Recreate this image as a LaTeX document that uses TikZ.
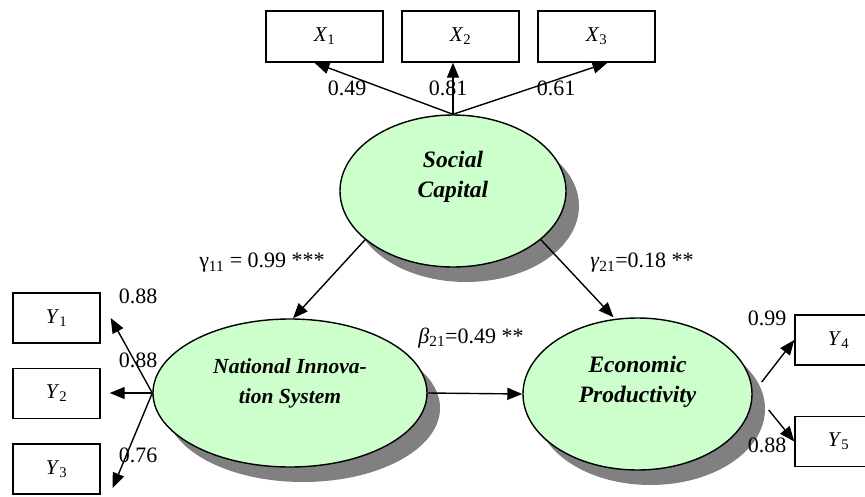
\documentclass[tikz,border=0pt]{standalone}
\usepackage{fontspec}
\setmainfont{Liberation Serif}
\usetikzlibrary{arrows.meta,shapes.geometric,shadows,calc}
\definecolor{latfill}{RGB}{204,255,204}
\definecolor{shadowgray}{RGB}{128,128,128}
\begin{document}
\begin{tikzpicture}[x=1pt,y=-1pt,
  obsbox/.style={draw,line width=1.4pt,fill=white,minimum width=117pt,minimum height=51pt,inner sep=0pt,font=\fontsize{21}{24}\selectfont},
  ybox/.style={obsbox,minimum width=87pt,minimum height=50pt},
  latent/.style={ellipse,draw,line width=1.4pt,fill=latfill,inner sep=0pt,
    drop shadow={shadow xshift=13pt,shadow yshift=-15pt,fill=shadowgray,opacity=1,draw=none}},
  lattext/.style={align=center,inner sep=0pt,font=\fontsize{23.5}{30}\selectfont\bfseries\itshape},
  num/.style={font=\fontsize{22}{26}\selectfont,inner sep=0pt},
  conn/.style={line width=1.4pt,-{Triangle[length=15pt,width=12pt]}}
]
\useasboundingbox (0,0) rectangle (865,496);
\clip (0,0) rectangle (865,496);

% observed variables
\node[obsbox] (x1) at (324.5,36.5) {\textit{X}\textsubscript{1}};
\node[obsbox] (x2) at (460.5,36.5) {\textit{X}\textsubscript{2}};
\node[obsbox] (x3) at (596.5,36.5) {\textit{X}\textsubscript{3}};
\node[ybox] (y1) at (56.5,318) {\textit{Y}\textsubscript{1}};
\node[ybox] (y2) at (56.5,393.5) {\textit{Y}\textsubscript{2}};
\node[ybox] (y3) at (56.5,469) {\textit{Y}\textsubscript{3}};
\node[ybox] (y4) at (838.5,340) {\textit{Y}\textsubscript{4}};
\node[ybox] (y5) at (838.5,441.5) {\textit{Y}\textsubscript{5}};

% latent variables
\node[latent,minimum width=226pt,minimum height=152pt] (sc) at (453,191) {};
\node[lattext] (sct) at ([yshift=14pt]sc.center) {Social\\Capital};
\node[latent,minimum width=274pt,minimum height=148pt] (nis) at (290,393) {};
\node[lattext,font=\fontsize{21.5}{30}\selectfont\bfseries\itshape] (nist) at ([yshift=10pt]nis.center) {National Innova-\\tion System};
\node[latent,minimum width=229pt,minimum height=152pt] (ep) at (637.5,394) {};
\node[lattext] (ept) at ([yshift=12pt]ep.center) {Economic\\Productivity};

% connectors
\draw[conn] (sc.north) -- ([xshift=-10pt]x1.south);
\draw[conn] (sc.north) -- ([xshift=-7.5pt]x2.south);
\draw[conn] (sc.north) -- ([xshift=11pt]x3.south);
\draw[conn] (sc.209) -- ([xshift=3pt]nis.north);
\draw[conn] (sc.-29) -- ([xshift=-24pt]ep.north);
\draw[conn] (nis.east) -- (ep.west);
\draw[conn] (nis.west) -- ([xshift=10pt]y1.east);
\draw[conn] (nis.west) -- ([xshift=9pt,yshift=0.5pt]y2.east);
\draw[conn] (nis.west) -- ([xshift=12pt,yshift=-19pt]y3.east);
\draw[conn] ([xshift=9pt,yshift=12pt]ep.east) -- (y4.west);
\draw[conn] ([xshift=16pt,yshift=-16pt]ep.east) -- (y5.west);

% labels
\node[num] (l1) at (347,88) {0.49};
\node[num] (l2) at (448,88) {0.81};
\node[num] (l3) at (556,88) {0.61};
\node[num] (lg11) at (262,263) {γ\textsubscript{11} = 0.99 ***};
\node[num] (lg21) at (642,263) {\textit{γ}\textsubscript{21}=0.18 **};
\node[num] (lb21) at (471,338) {\textit{β}\textsubscript{21}=0.49 **};
\node[num] (ly1) at (138,296) {0.88};
\node[num] (ly2) at (138,360) {0.88};
\node[num] (ly3) at (138,455) {0.76};
\node[num] (ly4) at (767,318) {0.99};
\node[num] (ly5) at (767,445) {0.88};
\end{tikzpicture}
\end{document}
